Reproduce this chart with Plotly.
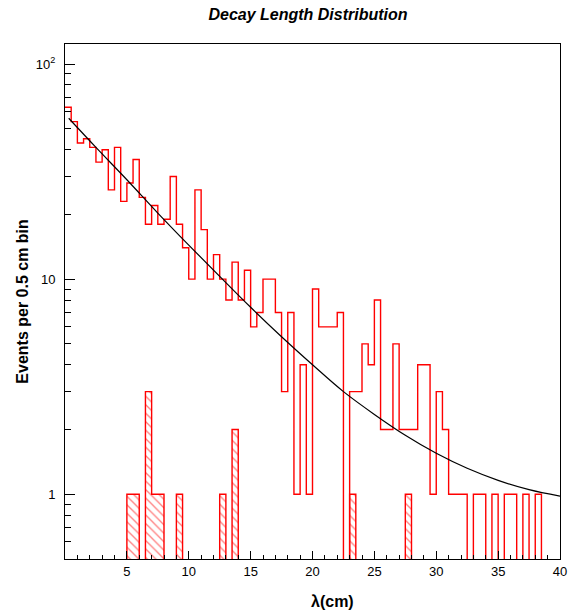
import numpy as np
import plotly.graph_objects as go

# ---------------- data ----------------
bin_width = 0.5
x_min, x_max = 0.0, 40.0

# main histogram: events per 0.5 cm bin (80 bins, 0 - 40 cm)
events = [63, 54, 43, 45, 41, 35, 40, 26, 41, 23,
          28, 36, 24, 18, 22, 18, 19, 30, 18, 14,
          10, 26, 17, 10, 13, 10, 8, 12, 8, 11,
          6, 7, 10, 10, 7, 3, 7, 1, 4, 1,
          9, 6, 6, 6, 7, 0, 3, 3, 5, 4,
          8, 2, 2, 5, 2, 2, 2, 4, 4, 1,
          3, 2, 1, 1, 1, 0, 1, 1, 0, 1,
          0, 1, 1, 0, 1, 0, 1, 0, 0, 0]

# hatched histogram (same binning)
hatched = [0] * 80
for b, v in {10: 1, 11: 1, 13: 3, 14: 1, 15: 1, 18: 1, 25: 1, 27: 2, 46: 1, 55: 1}.items():
    hatched[b] = v

# fitted curve
fit_lambda = [0.3, 2.5, 5, 7.5, 10, 12.5, 15, 17.5, 20, 22.5, 25, 27.5, 30, 32.5, 35, 37.5, 40]
fit_value = [56, 41, 29, 20.3, 14.4, 10.3, 7.4, 5.4, 4.0, 3.0, 2.35, 1.88, 1.55, 1.32, 1.16, 1.05, 0.98]

y_lo, y_hi = 0.5, 124.0
x_ticks = [5, 10, 15, 20, 25, 30, 35, 40]
y_ticks = [1, 10, 100]
y_ticktext = ["1", "10", "10<sup>2</sup>"]
y_minor = [0.5, 0.6, 0.7, 0.8, 0.9, 2, 3, 4, 5, 6, 7, 8, 9,
           20, 30, 40, 50, 60, 70, 80, 90]

# ---------------- helpers ----------------
n_bins = len(events)
edges = [x_min + i * bin_width for i in range(n_bins + 1)]
centers = [x_min + (i + 0.5) * bin_width for i in range(n_bins)]
FLOOR = 0.05  # display value for empty bins (below the visible log range)


def step(vals):
    ys = [v if v > 0 else FLOOR for v in vals]
    return edges, ys + [ys[-1]]


fig = go.Figure()

# hatched fill
hx = [c for c, v in zip(centers, hatched) if v > 0]
hy = [v for v in hatched if v > 0]
fig.add_trace(go.Bar(
    x=hx, y=hy, width=bin_width,
    marker=dict(color="rgba(255,255,255,0)", line=dict(width=0),
                pattern=dict(shape="\\", fgcolor="red", bgcolor="rgba(255,255,255,0)",
                             size=6, solidity=0.22)),
    showlegend=False, hoverinfo="skip"))

# hatched outline
sx, sy = step(hatched)
fig.add_trace(go.Scatter(x=sx, y=sy, mode="lines",
                         line=dict(color="red", width=1.4, shape="hv"),
                         showlegend=False, hoverinfo="skip"))

# main histogram outline
sx, sy = step(events)
fig.add_trace(go.Scatter(x=sx, y=sy, mode="lines",
                         line=dict(color="red", width=1.4, shape="hv"),
                         showlegend=False))

# fit curve
fig.add_trace(go.Scatter(x=fit_lambda, y=fit_value, mode="lines",
                         line=dict(color="black", width=1.2, shape="spline"),
                         showlegend=False))

FONT = "Liberation Sans, Arial, Helvetica, sans-serif"

fig.update_layout(
    width=579, height=614,
    margin=dict(l=65, r=17, t=44, b=55),
    paper_bgcolor="white", plot_bgcolor="white",
    barmode="overlay", bargap=0,
    font=dict(family=FONT, size=13, color="black"),
    title=dict(text="<b><i>Decay Length Distribution</i></b>",
               x=0.532, xanchor="center", y=1 - 14 / 614, yanchor="middle",
               font=dict(size=16, family=FONT)),
    xaxis=dict(range=[x_min, x_max], tickvals=x_ticks, ticks="inside", ticklen=8,
               tickcolor="black", showline=True, linecolor="black", linewidth=1,
               mirror=True, showgrid=False, zeroline=False,
               minor=dict(ticks="inside", ticklen=4, dtick=1, tick0=0, tickcolor="black"),
               tickfont=dict(size=13)),
    yaxis=dict(type="log", range=[np.log10(y_lo), np.log10(y_hi)],
               tickvals=y_ticks, ticktext=y_ticktext, ticks="inside", ticklen=10,
               tickcolor="black", showline=True, linecolor="black", linewidth=1,
               mirror=True, showgrid=False, zeroline=False,
               minor=dict(ticks="inside", ticklen=6, tickmode="array",
                          tickvals=y_minor, tickcolor="black"),
               ticklabelstandoff=6, tickfont=dict(size=13)),
    annotations=[
        dict(text="<b>λ(cm)</b>", xref="paper", yref="paper",
             x=(334 - 65) / (579 - 65 - 17), y=-(601 - 559) / (614 - 44 - 55),
             xanchor="center", yanchor="middle", showarrow=False,
             font=dict(size=16, family=FONT)),
        dict(text="<b>Events per 0.5 cm bin</b>", xref="paper", yref="paper",
             x=-(65 - 22) / (579 - 65 - 17), y=0.5, textangle=-90,
             xanchor="center", yanchor="middle", showarrow=False,
             font=dict(size=16, family=FONT)),
    ],
)

fig.write_html("out.html")
